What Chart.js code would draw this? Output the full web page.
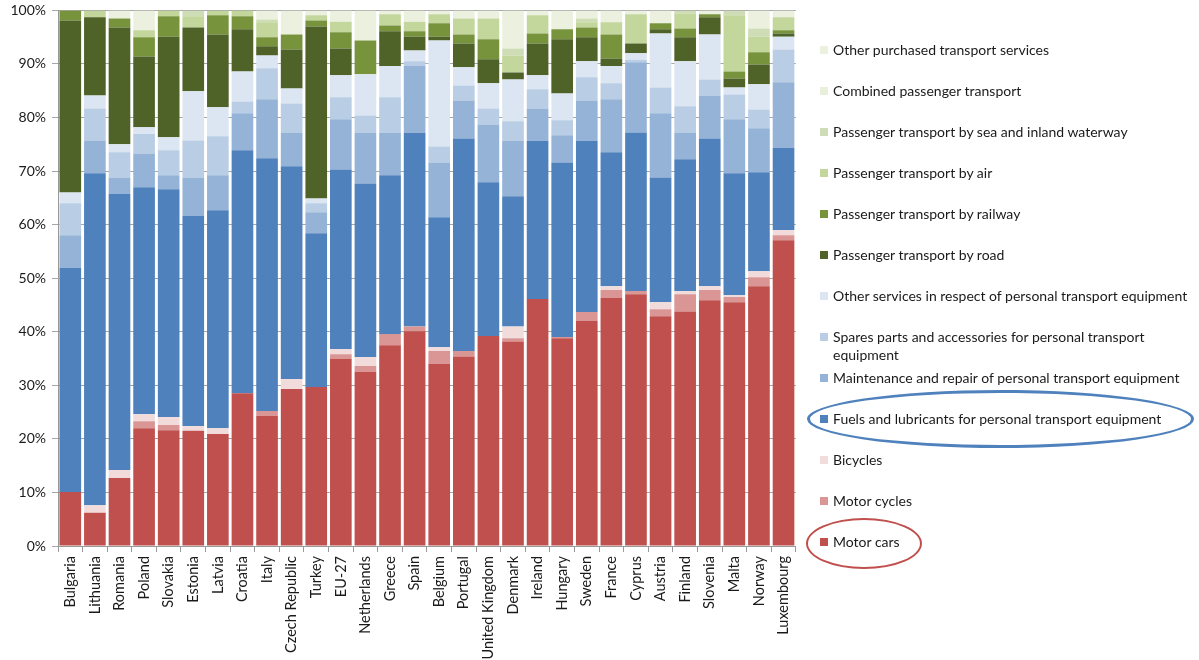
<!DOCTYPE html>
<html>
<head>
<meta charset="utf-8">
<script src="https://cdn.jsdelivr.net/npm/chart.js@4"></script>
<style>
  body { margin: 0; background: #fff; font-family: Lato, "Open Sans", sans-serif; }
  #wrap { position: relative; width: 1199px; height: 660px; overflow: hidden; }
  #chartBox { position: absolute; left: 0; top: -4px; width: 805px; height: 664px; }
  #legend { position: absolute; left: 0; top: 0; width: 1199px; height: 660px; pointer-events: none; }
  .item { position: absolute; left: 820px; font-size: 14px; line-height: 18px; color: #1a1a1a; white-space: nowrap; }
  .item .sw { display: inline-block; width: 8px; height: 8px; margin-right: 5px; vertical-align: 1px; }
  .item .txt { display: inline-block; vertical-align: top; }
  .ring { position: absolute; border-radius: 50%; box-sizing: border-box; }
</style>
</head>
<body>
<div id="wrap">
  <div id="chartBox"><canvas id="grafico-transporte"></canvas></div>
  <div id="legend"></div>
</div>
<script>
// categorias (países)
const paises = ['Bulgaria', 'Lithuania', 'Romania', 'Poland', 'Slovakia', 'Estonia', 'Latvia', 'Croatia', 'Italy', 'Czech Republic',
    'Turkey', 'EU-27', 'Netherlands', 'Greece', 'Spain', 'Belgium', 'Portugal', 'United Kingdom', 'Denmark', 'Ireland',
    'Hungary', 'Sweden', 'France', 'Cyprus', 'Austria', 'Finland', 'Slovenia', 'Malta', 'Norway', 'Luxembourg'];

// séries (% do total), de baixo para cima
const motorCars      = [10.1, 6.2, 12.7, 22.0, 21.6, 21.5, 20.9, 28.5, 24.3, 29.3, 29.7, 34.9, 32.5, 37.5, 40.1, 34.0, 35.4, 39.2, 38.2, 46.1, 38.8, 42.0, 46.3, 47.0, 42.9, 43.8, 45.9, 45.5, 48.5, 57.1];
const motorCycles    = [0, 0, 0, 1.3, 1.0, 0, 0, 0, 0.9, 0, 0, 0.9, 1.1, 2.1, 0.9, 2.4, 1.0, 0, 0.6, 0, 0.2, 1.7, 1.5, 0.6, 1.3, 3.2, 1.9, 1.0, 1.7, 0.9];
const bicycles       = [0, 1.4, 1.5, 1.3, 1.5, 0.9, 1.1, 0, 0, 1.9, 0, 1.0, 1.7, 0, 0, 0.7, 0, 0, 2.2, 0, 0, 0, 0.7, 0, 1.3, 0.6, 0.7, 0.3, 1.1, 1.0];
const fuels          = [41.8, 62.0, 51.5, 42.4, 42.5, 39.2, 40.7, 45.4, 47.2, 39.7, 28.7, 33.5, 32.4, 29.6, 36.1, 24.3, 39.7, 28.7, 24.3, 29.5, 32.6, 31.9, 25.0, 29.6, 23.3, 24.6, 27.6, 22.8, 18.5, 15.3];
const maintenance    = [6.1, 6.1, 3.1, 6.3, 2.6, 7.1, 6.5, 6.9, 11.0, 6.3, 3.9, 9.4, 9.4, 7.9, 12.5, 10.2, 7.1, 10.8, 10.3, 6.1, 5.1, 7.6, 9.9, 13.1, 12.0, 5.0, 7.9, 10.1, 8.2, 12.3];
const spares         = [6.0, 6.0, 4.7, 3.6, 4.7, 7.0, 7.3, 2.2, 5.8, 5.4, 1.7, 4.1, 3.3, 6.7, 0.9, 3.0, 2.8, 3.0, 3.7, 3.6, 2.8, 4.3, 3.0, 0.5, 4.8, 4.9, 3.1, 4.6, 3.5, 6.1];
const otherServices  = [2.0, 2.4, 1.5, 1.3, 2.4, 9.2, 5.4, 5.6, 2.4, 2.8, 0.9, 4.1, 7.7, 5.8, 2.0, 19.8, 3.4, 4.7, 7.8, 2.6, 5.0, 3.0, 3.2, 1.2, 10.1, 8.4, 8.4, 1.3, 4.7, 2.4];
const byRoad         = [32.1, 14.6, 21.8, 13.2, 18.8, 11.9, 13.6, 7.9, 1.7, 7.3, 32.1, 5.0, 0, 6.5, 2.6, 0.7, 4.4, 4.5, 1.3, 5.9, 10.1, 4.5, 1.4, 1.8, 0.8, 4.5, 3.2, 1.7, 3.7, 0.6];
const byRailway      = [1.9, 0, 1.7, 3.6, 3.8, 0, 3.6, 2.4, 1.7, 2.8, 1.1, 3.0, 6.3, 1.1, 1.0, 2.5, 1.7, 3.7, 0, 1.9, 1.9, 1.8, 4.5, 0, 1.1, 1.6, 0.6, 1.3, 2.3, 0.6];
const byAir          = [0, 1.3, 0, 1.3, 1.1, 2.1, 0.9, 1.1, 2.8, 0, 1.0, 2.0, 0, 2.1, 1.8, 1.7, 3.0, 3.9, 3.2, 3.4, 0, 1.0, 2.3, 5.5, 0, 2.8, 0, 10.5, 2.9, 2.4];
const bySea          = [0, 0, 0, 0, 0, 1.1, 0, 0, 0.5, 0, 0, 0, 0, 0, 0, 0, 0, 0, 1.3, 0, 0, 0.7, 0, 0, 0, 0.6, 0, 0.9, 1.5, 0];
const combined       = [0, 0, 0, 0, 0, 0, 0, 0, 0, 0, 0, 0, 0, 0, 0, 0, 0, 0, 0, 0, 0, 0, 0, 0, 0, 0, 0, 0, 0, 0];
const otherPurchased = [0, 0, 1.5, 3.7, 0, 0, 0, 0, 1.7, 4.5, 0.9, 2.1, 5.6, 0.7, 2.1, 0.7, 1.5, 1.5, 7.1, 0.9, 3.5, 1.5, 2.2, 0.7, 2.4, 0, 0.7, 0, 3.4, 1.3];

const yTicks = [0, 10, 20, 30, 40, 50, 60, 70, 80, 90, 100];

const series = [
    { label: 'Motor cars', data: motorCars, cor: '#C0504D' },
    { label: 'Motor cycles', data: motorCycles, cor: '#D99694' },
    { label: 'Bicycles', data: bicycles, cor: '#F2DCDB' },
    { label: 'Fuels and lubricants for personal transport equipment', data: fuels, cor: '#4F81BD' },
    { label: 'Maintenance and repair of personal transport equipment', data: maintenance, cor: '#95B3D7' },
    { label: 'Spares parts and accessories for personal transport equipment', data: spares, cor: '#B9CDE5', quebra: 'Spares parts and accessories for personal transport<br>equipment' },
    { label: 'Other services in respect of personal transport equipment', data: otherServices, cor: '#DCE6F2' },
    { label: 'Passenger transport by road', data: byRoad, cor: '#4F6228' },
    { label: 'Passenger transport by railway', data: byRailway, cor: '#77933C' },
    { label: 'Passenger transport by air', data: byAir, cor: '#C3D69B' },
    { label: 'Passenger transport by sea and inland waterway', data: bySea, cor: '#CFDDB6' },
    { label: 'Combined passenger transport', data: combined, cor: '#E8EFDA' },
    { label: 'Other purchased transport services', data: otherPurchased, cor: '#EBF1DE' }
];

const ctx = document.getElementById('grafico-transporte').getContext('2d');
new Chart(ctx, {
    type: 'bar',
    data: {
        labels: paises,
        datasets: series.map(s => ({
            label: s.label, data: s.data, backgroundColor: s.cor,
            borderWidth: 0, barPercentage: 0.88, categoryPercentage: 1
        }))
    },
    options: {
        responsive: true, maintainAspectRatio: false, animation: false,
        layout: { padding: { top: 2, right: 4 } },
        plugins: { legend: { display: false }, tooltip: { enabled: false } },
        scales: {
            x: {
                stacked: true,
                grid: { drawOnChartArea: false, drawTicks: true, tickLength: 6, offset: true, color: '#999' },
                border: { color: '#999' },
                ticks: { color: '#1a1a1a', font: { family: 'Lato', size: 14.5 }, minRotation: 90, maxRotation: 90, autoSkip: false, padding: 4 },
                afterFit: (scale) => { scale.height = 114; }
            },
            y: {
                stacked: true, min: 0, max: 100,
                afterBuildTicks: (scale) => { scale.ticks = yTicks.map(v => ({ value: v })); },
                grid: { color: '#a6a6a6', tickLength: 6 },
                border: { color: '#999' },
                ticks: { color: '#1a1a1a', font: { family: 'Lato', size: 14 }, padding: 6, callback: v => v + '%' },
                afterFit: (scale) => { scale.width = 58; }
            }
        }
    }
});

// legenda manual (ordem invertida, como no original)
const legenda = document.getElementById('legend');
series.slice().reverse().forEach((s, i) => {
    const div = document.createElement('div');
    div.className = 'item';
    div.style.top = (50 + i * 41 - 9) + 'px';
    div.innerHTML = `<span class="sw" style="background:${s.cor}"></span><span class="txt">${s.quebra || s.label}</span>`;
    legenda.appendChild(div);
});

// destaques
const anelAzul = document.createElement('div');
anelAzul.className = 'ring';
Object.assign(anelAzul.style, { left: '807px', top: '390px', width: '387px', height: '58px', border: '3px solid #4F81BD' });
legenda.appendChild(anelAzul);

const anelVermelho = document.createElement('div');
anelVermelho.className = 'ring';
Object.assign(anelVermelho.style, { left: '806px', top: '518px', width: '116px', height: '51px', border: '2.5px solid #C0504D' });
legenda.appendChild(anelVermelho);
</script>
</body>
</html>
